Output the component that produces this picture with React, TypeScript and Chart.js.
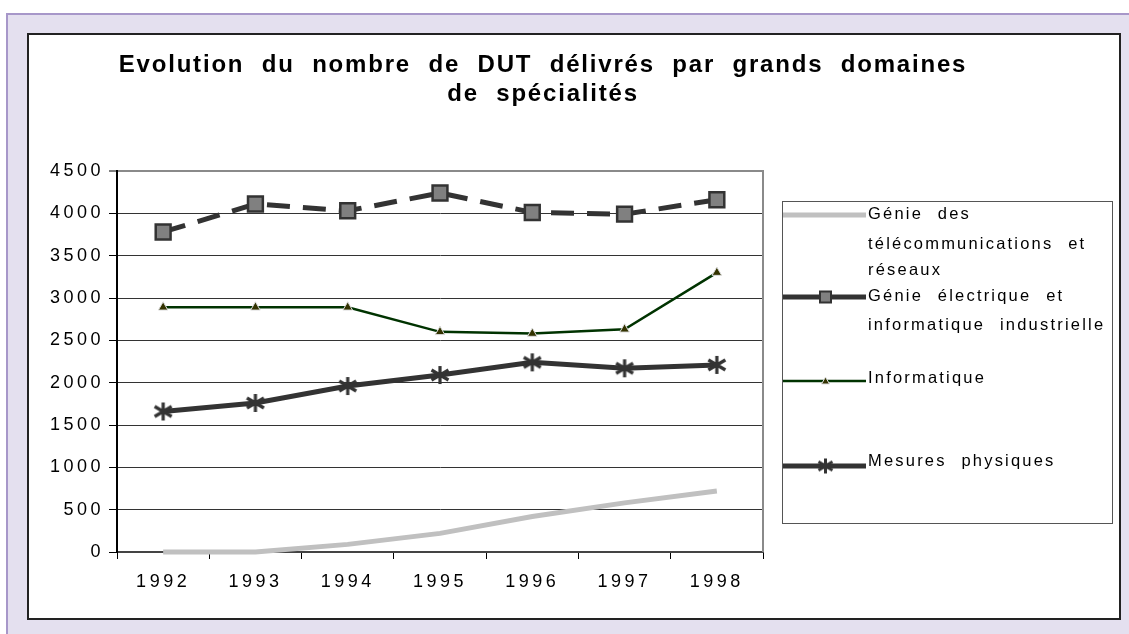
import React, { useEffect, useRef } from 'react';
import { Chart, registerables } from 'chart.js';

Chart.register(...registerables);

// ---- Data ----
const years = ['1992', '1993', '1994', '1995', '1996', '1997', '1998'];
const telecom = [0, 0, 90, 220, 420, 580, 720];
const electrique = [3780, 4110, 4030, 4240, 4010, 3990, 4160];
const informatique = [2890, 2890, 2890, 2600, 2580, 2630, 3300];
const mesures = [1660, 1760, 1960, 2090, 2240, 2170, 2210];
const seriesNames = [
  'Génie des télécommunications et réseaux',
  'Génie électrique et informatique industrielle',
  'Informatique',
  'Mesures physiques',
];
const legendLines = [
  ['Génie des', 'télécommunications et', 'réseaux'],
  ['Génie électrique et', 'informatique industrielle'],
  ['Informatique'],
  ['Mesures physiques'],
];
const titleLines = ['Evolution du nombre de DUT délivrés par grands domaines', 'de spécialités'];
const yMin = 0;
const yMax = 4500;
const yStep = 500;

const FONT = '"Liberation Sans", Arial, sans-serif';

function makeAsterisk(size: number, lw: number, color: string) {
  const c = document.createElement('canvas');
  c.width = size;
  c.height = size;
  const g = c.getContext('2d') as CanvasRenderingContext2D;
  g.strokeStyle = color;
  g.lineWidth = lw;
  g.beginPath();
  g.moveTo(size / 2, 1);
  g.lineTo(size / 2, size - 1);
  g.moveTo(1.5, size * 0.25);
  g.lineTo(size - 1.5, size * 0.75);
  g.moveTo(1.5, size * 0.75);
  g.lineTo(size - 1.5, size * 0.25);
  g.stroke();
  return c;
}

export default function App() {
  const ref = useRef<HTMLCanvasElement | null>(null);

  useEffect(() => {
    const canvas = ref.current;
    if (!canvas) return;
    const star = makeAsterisk(20, 3.2, '#333333');
    const starLegend = makeAsterisk(17, 3, '#333333');

    const overlay = {
      id: 'overlay',
      beforeDraw(chart: any) {
        (chart.ctx as any).letterSpacing = '3.5px';
      },
      afterDraw(chart: any) {
        const ctx = chart.ctx as any;
        const { right, top, bottom } = chart.chartArea;
        ctx.save();
        // right border of plot
        ctx.strokeStyle = '#8a8a8a';
        ctx.lineWidth = 2;
        ctx.beginPath();
        ctx.moveTo(right, top - 1);
        ctx.lineTo(right, bottom);
        ctx.stroke();

        // title
        ctx.letterSpacing = '1.8px';
        ctx.wordSpacing = '9px';
        ctx.font = `bold 24px ${FONT}`;
        ctx.fillStyle = '#000';
        ctx.textAlign = 'center';
        ctx.textBaseline = 'alphabetic';
        titleLines.forEach((t, i) => ctx.fillText(t, 514, 37 + i * 28.5));

        // legend box
        ctx.letterSpacing = '0px';
        ctx.wordSpacing = '0px';
        ctx.strokeStyle = '#555';
        ctx.lineWidth = 1;
        ctx.strokeRect(753.5, 166.5, 330, 322);

        const ds = chart.data.datasets;
        const swY = [180, 262, 346, 431];
        const textY = [[179, 209, 235], [261, 290], [343], [426]];
        const x0 = 754;
        const x1 = 837;
        const mx = 796.5;
        ds.forEach((d: any, i: number) => {
          const y = swY[i];
          ctx.save();
          ctx.setLineDash([]);
          ctx.strokeStyle = d.borderColor;
          ctx.lineWidth = d.borderWidth;
          ctx.beginPath();
          ctx.moveTo(x0, y);
          ctx.lineTo(x1, y);
          ctx.stroke();
          if (i === 1) {
            ctx.fillStyle = '#808080';
            ctx.strokeStyle = '#333';
            ctx.lineWidth = 2;
            ctx.fillRect(mx - 5.5, y - 5.5, 11, 11);
            ctx.strokeRect(mx - 5.5, y - 5.5, 11, 11);
          } else if (i === 2) {
            ctx.fillStyle = '#333300';
            ctx.strokeStyle = '#dddddd';
            ctx.lineWidth = 1;
            ctx.beginPath();
            ctx.moveTo(mx, y - 4);
            ctx.lineTo(mx + 4, y + 3);
            ctx.lineTo(mx - 4, y + 3);
            ctx.closePath();
            ctx.fill();
            ctx.stroke();
          } else if (i === 3) {
            ctx.drawImage(starLegend, mx - 8.5, y - 8.5);
          }
          ctx.restore();
          ctx.letterSpacing = '2.2px';
          ctx.wordSpacing = '8px';
          ctx.font = `16.5px ${FONT}`;
          ctx.fillStyle = '#000';
          ctx.textAlign = 'left';
          ctx.textBaseline = 'middle';
          legendLines[i].forEach((t, j) => ctx.fillText(t, 839, textY[i][j]));
        });
        ctx.restore();
      },
    };

    const chart = new Chart(canvas, {
      type: 'line',
      data: {
        labels: years,
        datasets: [
          {
            label: seriesNames[0],
            data: telecom,
            borderColor: '#c0c0c0',
            borderWidth: 5,
            pointRadius: 0,
            tension: 0,
            clip: false,
          } as any,
          {
            label: seriesNames[1],
            data: electrique,
            borderColor: '#333333',
            borderWidth: 5,
            borderDash: [23, 13],
            pointStyle: 'rect',
            pointRadius: 10.5,
            pointBackgroundColor: '#808080',
            pointBorderColor: '#333333',
            pointBorderWidth: 2.5,
            tension: 0,
            clip: false,
          },
          {
            label: seriesNames[2],
            data: informatique,
            borderColor: '#003300',
            borderWidth: 2.5,
            pointStyle: 'triangle',
            pointRadius: 5.5,
            pointBackgroundColor: '#333300',
            pointBorderColor: '#dddddd',
            pointBorderWidth: 1,
            tension: 0,
            clip: false,
          },
          {
            label: seriesNames[3],
            data: mesures,
            borderColor: '#333333',
            borderWidth: 5,
            pointStyle: star as any,
            pointRadius: 10,
            tension: 0,
            clip: false,
          },
        ],
      },
      options: {
        animation: false,
        responsive: false,
        layout: { padding: { top: 136, right: 356, left: 0, bottom: 0 } },
        plugins: {
          legend: { display: false },
          title: { display: false },
          tooltip: { enabled: false },
        },
        scales: {
          x: {
            type: 'category',
            offset: true,
            afterFit(scale: any) {
              scale.height = 66;
            },
            grid: {
              display: true,
              drawOnChartArea: false,
              drawTicks: true,
              tickLength: 7,
              offset: true,
              color: '#000',
              tickColor: '#000',
            },
            border: { display: true, color: '#444', width: 2 },
            ticks: {
              color: '#000',
              font: { family: FONT, size: 18 },
              padding: 12,
              maxRotation: 0,
              autoSkip: false,
            },
          },
          y: {
            min: yMin,
            max: yMax,
            afterFit(scale: any) {
              scale.width = 88;
            },
            grid: {
              drawTicks: true,
              tickLength: 8,
              color: (c: any) => (c.tick && c.tick.value === yMax ? '#8a8a8a' : '#333333'),
              lineWidth: (c: any) => (c.tick && c.tick.value === yMax ? 2 : 1),
              tickColor: '#000',
              tickWidth: 1,
            },
            border: { display: true, color: '#000', width: 2 },
            ticks: {
              stepSize: yStep,
              color: '#000',
              font: { family: FONT, size: 18 },
              padding: 5,
              callback: (v: any) => String(v),
            },
          },
        },
      },
      plugins: [overlay],
    } as any);

    return () => chart.destroy();
  }, []);

  return (
    <div>
      <div
        style={{
          position: 'fixed',
          left: 6,
          top: 13,
          width: 1140,
          height: 640,
          background: '#e4e0ef',
          borderTop: '2px solid #a797c9',
          borderLeft: '2px solid #a797c9',
          boxSizing: 'border-box',
        }}
      />
      <div
        style={{
          position: 'fixed',
          left: 27,
          top: 33,
          width: 1094,
          height: 587,
          background: '#ffffff',
          border: '2px solid #222',
          boxSizing: 'border-box',
        }}
      >
        <canvas ref={ref} width={1090} height={583} style={{ display: 'block', width: 1090, height: 583 }} />
      </div>
    </div>
  );
}
